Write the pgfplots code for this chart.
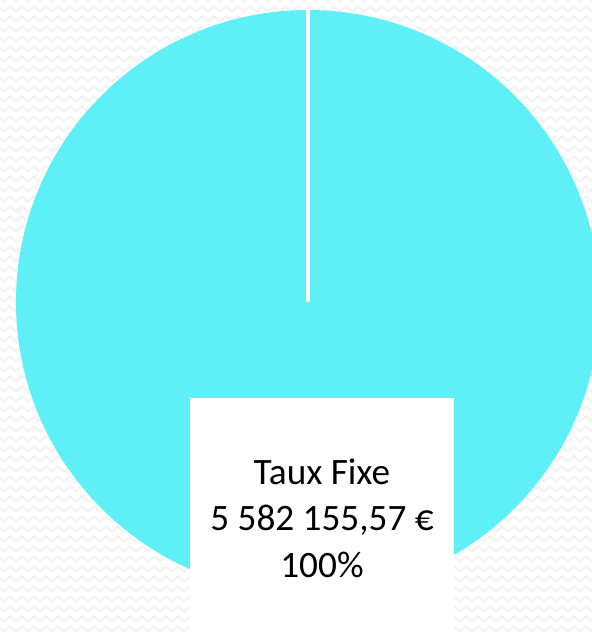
\documentclass[border=0pt]{standalone}
\usepackage{pgfplots}
\pgfplotsset{compat=1.18}
\usepackage{pgfplotstable}
\usepackage{fontspec}
\setmainfont{Carlito}
\usetikzlibrary{decorations.pathmorphing}
\definecolor{piecyan}{RGB}{94,240,246}
\definecolor{bgline}{RGB}{243,243,243}
\pgfplotstableread{
label value percent
TauxFixe 5582155.57 100
}\piedata
\pgfplotstablegetelem{0}{percent}\of\piedata
\pgfmathsetmacro{\sliceangle}{3.6*\pgfplotsretval}
\begin{document}
\begin{tikzpicture}
\begin{axis}[
  width=5.92cm, height=6.34cm, scale only axis,
  xmin=0, xmax=592, ymin=0, ymax=634,
  hide axis, clip=true,
]
% background
\fill[white] (axis cs:0,0) rectangle (axis cs:592,634);
\pgfplotsinvokeforeach{5,15,...,635}{
  \draw[bgline, line width=0.6pt, decorate,
        decoration={zigzag, segment length=0.12cm, amplitude=0.025cm}]
    (axis cs:-5,#1) -- (axis cs:600,#1);
}
% pie (single slice = 100%)
\fill[piecyan] (axis cs:308,332) -- ++(90:2.92cm) arc[start angle=90, delta angle=\sliceangle, radius=2.92cm] -- cycle;
\draw[white, line width=0.9pt] (axis cs:308,332) -- ++(90:2.93cm);
% label box
\fill[white] (axis cs:190,0) rectangle (axis cs:454,236);
\node[align=center, font=\fontsize{10.6}{13.2}\selectfont, anchor=center]
  at (axis cs:322,116) {Taux Fixe\\5 582 155,57 €\\100\%};
\end{axis}
\end{tikzpicture}
\end{document}
